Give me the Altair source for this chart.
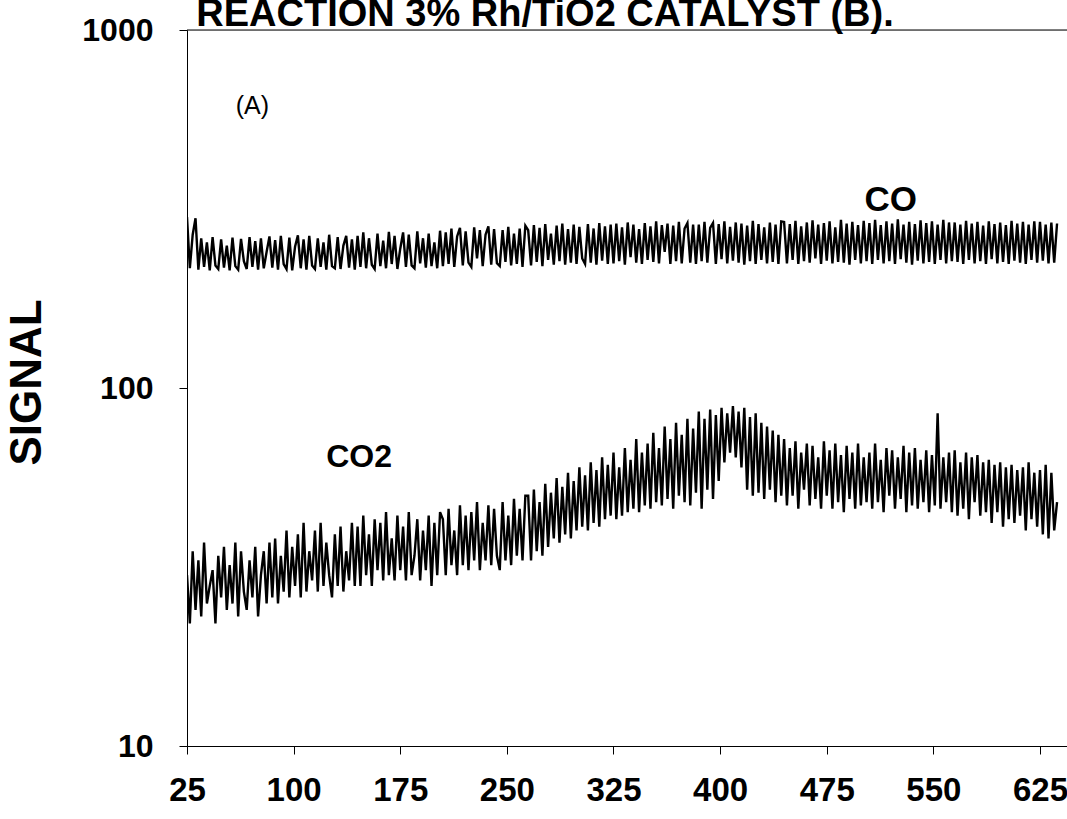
import altair as alt
import pandas as pd

co_vals = [
    300, 216, 268, 298, 214, 262, 218, 255, 213, 264, 220, 215, 260, 217, 250, 213, 263, 219, 214, 261, 226, 215, 264, 218, 257, 214, 262, 216, 240, 265,
    217, 259, 214, 266, 222, 215, 263, 213, 248, 267, 216, 260, 214, 266, 220, 215, 262, 218, 255, 214, 268, 219, 216, 264, 215, 250, 266, 217, 260, 214,
    266, 218, 272, 216, 262, 221, 215, 270, 219, 258, 216, 273, 222, 266, 215, 245, 272, 218, 268, 220, 216, 274, 223, 262, 217, 270, 219, 255, 216, 275,
    219, 272, 222, 279, 218, 265, 280, 220, 274, 224, 218, 281, 230, 276, 219, 268, 283, 221, 278, 223, 219, 276, 225, 282, 220, 270, 222, 279, 218, 284,
    276, 220, 285, 225, 280, 219, 287, 228, 270, 221, 284, 226, 288, 221, 278, 224, 286, 222, 282, 230, 222, 287, 224, 279, 221, 289, 227, 283, 222, 286,
    223, 288, 226, 281, 221, 290, 232, 286, 224, 278, 222, 289, 228, 283, 225, 292, 223, 285, 240, 288, 222, 284, 226, 291, 223, 279, 289, 224, 286, 222,
    286, 226, 291, 224, 280, 289, 222, 287, 229, 292, 223, 282, 227, 290, 224, 288, 221, 284, 226, 293, 222, 287, 228, 281, 223, 290, 225, 286, 222, 292,
    291, 223, 287, 228, 293, 222, 283, 226, 290, 224, 294, 230, 286, 222, 289, 227, 292, 223, 281, 225, 295, 224, 288, 221, 291, 228, 285, 223, 293, 226,
    289, 222, 295, 228, 285, 223, 292, 226, 288, 222, 296, 229, 286, 224, 291, 221, 287, 227, 294, 223, 289, 225, 292, 222, 286, 228, 295, 223, 290, 226,
    290, 225, 286, 222, 293, 228, 288, 223, 291, 226, 284, 222, 292, 229, 287, 223, 290, 225, 285, 222, 293, 227, 288, 224, 291, 222, 286, 228, 292, 224,
    291, 227, 286, 223, 290, 224, 288,
]

co2_vals = [
    30, 22, 35, 24, 33, 23, 37, 25, 28, 31, 22, 34, 26, 36, 24, 32, 25, 37, 23, 35, 27, 24, 33, 26, 36, 23, 30, 35, 25, 37,
    26, 38, 25, 34, 27, 40, 26, 36, 28, 39, 26, 42, 27, 35, 29, 40, 27, 42, 28, 37, 30, 26, 39, 28, 41, 27, 35, 29, 42, 28,
    41, 28, 44, 30, 39, 28, 43, 31, 42, 29, 45, 30, 38, 29, 44, 31, 41, 29, 45, 30, 34, 43, 29, 40, 31, 44, 28, 42, 30, 45,
    43, 30, 46, 32, 40, 30, 47, 32, 44, 31, 45, 33, 48, 31, 42, 33, 47, 32, 46, 34, 31, 48, 33, 44, 32, 49, 34, 46, 33, 50,
    50, 33, 52, 35, 48, 34, 54, 36, 51, 38, 56, 37, 53, 39, 58, 38, 55, 40, 60, 41, 57, 40, 62, 42, 59, 41, 64, 43, 61, 44,
    66, 43, 60, 44, 68, 45, 63, 46, 72, 45, 66, 47, 70, 46, 75, 48, 68, 47, 78, 49, 72, 46, 80, 50, 74, 48, 82, 47, 77, 51,
    86, 46, 82, 52, 87, 49, 84, 55, 88, 62, 85, 66, 89, 64, 86, 60, 88, 52, 83, 50, 85, 51, 80, 49, 78, 52, 76, 48, 74, 50,
    72, 47, 68, 50, 71, 46, 66, 52, 70, 47, 69, 49, 64, 46, 71, 50, 67, 46, 70, 48, 65, 45, 69, 49, 66, 46, 70, 47, 64, 48,
    66, 46, 70, 48, 63, 45, 68, 50, 67, 46, 64, 49, 69, 45, 66, 47, 68, 46, 63, 48, 67, 45, 65, 47, 85, 46, 64, 48, 66, 45,
    67, 44, 62, 46, 66, 43, 64, 48, 65, 44, 62, 45, 63, 42, 61, 45, 62, 41, 60, 43, 61, 42, 59, 44, 60, 40, 62, 43, 58, 41,
    59, 39, 61, 38, 58, 40, 48,
]

x_co = list(range(25, 25 + 2 * len(co_vals), 2))
x_co2 = list(range(25, 25 + 2 * len(co2_vals), 2))

x_ticks = [25, 100, 175, 250, 325, 400, 475, 550, 625]
y_ticks = [10, 100, 1000]

label_text = ["(A)", "CO", "CO2"]
label_x = [71, 520, 146]
label_y = [614, 335, 64]

title_text = "REACTION 3% Rh/TiO2 CATALYST (B)."

FONT = "Liberation Sans"

df = pd.DataFrame(
    {"T": x_co + x_co2,
     "signal": co_vals + co2_vals,
     "series": ["CO"] * len(x_co) + ["CO2"] * len(x_co2)}
)

x_scale = alt.Scale(domain=[25, 644], nice=False, zero=False)
y_scale = alt.Scale(type="log", domain=[10, 1000], nice=False)

lines = alt.Chart(df).mark_line(color="black", strokeWidth=2.4, clip=True).encode(
    x=alt.X("T:Q", scale=x_scale,
            axis=alt.Axis(values=x_ticks, title=None, grid=False, labelFont=FONT,
                          labelFontSize=33, labelFontWeight="bold", labelColor="black",
                          labelPadding=20, tickSize=8, tickColor="black",
                          domainColor="black", labelFlush=False)),
    y=alt.Y("signal:Q", scale=y_scale,
            axis=alt.Axis(values=y_ticks, format="d", grid=False, title="SIGNAL",
                          labelFont=FONT, labelFontSize=32, labelFontWeight="bold",
                          labelColor="black", labelPadding=26, tickSize=8,
                          tickColor="black", domainColor="black",
                          titleFont=FONT, titleFontSize=44, titleFontWeight="bold",
                          titleColor="black", titleX=-160, titleY=352,
                          titleAlign="center", titleBaseline="middle", titleAngle=-90)),
    detail="series:N",
)

top_rule = alt.Chart(pd.DataFrame({"v": [1000]})).mark_rule(color="black", strokeWidth=1.2).encode(
    y=alt.Y("v:Q", scale=y_scale)
)

lab_df = pd.DataFrame({"t": label_text, "x": label_x, "y": label_y})
labels_a = alt.Chart(lab_df[lab_df.t == "(A)"]).mark_text(
    font=FONT, fontSize=25, fontWeight="normal", color="black", baseline="middle"
).encode(x=alt.X("x:Q", scale=x_scale), y=alt.Y("y:Q", scale=y_scale), text="t:N")
labels_co = alt.Chart(lab_df[lab_df.t == "CO"]).mark_text(
    font=FONT, fontSize=35, fontWeight="bold", color="black", baseline="middle"
).encode(x=alt.X("x:Q", scale=x_scale), y=alt.Y("y:Q", scale=y_scale), text="t:N")
labels_co2 = alt.Chart(lab_df[lab_df.t == "CO2"]).mark_text(
    font=FONT, fontSize=32, fontWeight="bold", color="black", baseline="middle"
).encode(x=alt.X("x:Q", scale=x_scale), y=alt.Y("y:Q", scale=y_scale), text="t:N")

title = alt.Chart(pd.DataFrame({"t": [title_text]})).mark_text(
    font=FONT, fontSize=38, fontWeight="bold", color="black", baseline="alphabetic",
    align="center"
).encode(x=alt.value(358), y=alt.value(-4), text="t:N")

chart = alt.layer(lines, top_rule, labels_a, labels_co, labels_co2, title).properties(
    width=880, height=716,
    autosize=alt.AutoSizeParams(type="none"),
    padding={"left": 187, "top": 30, "right": 0, "bottom": 73},
).configure_view(stroke=None).configure(background="white")

chart.save("out.html", embed_options={"renderer": "svg", "actions": False})
